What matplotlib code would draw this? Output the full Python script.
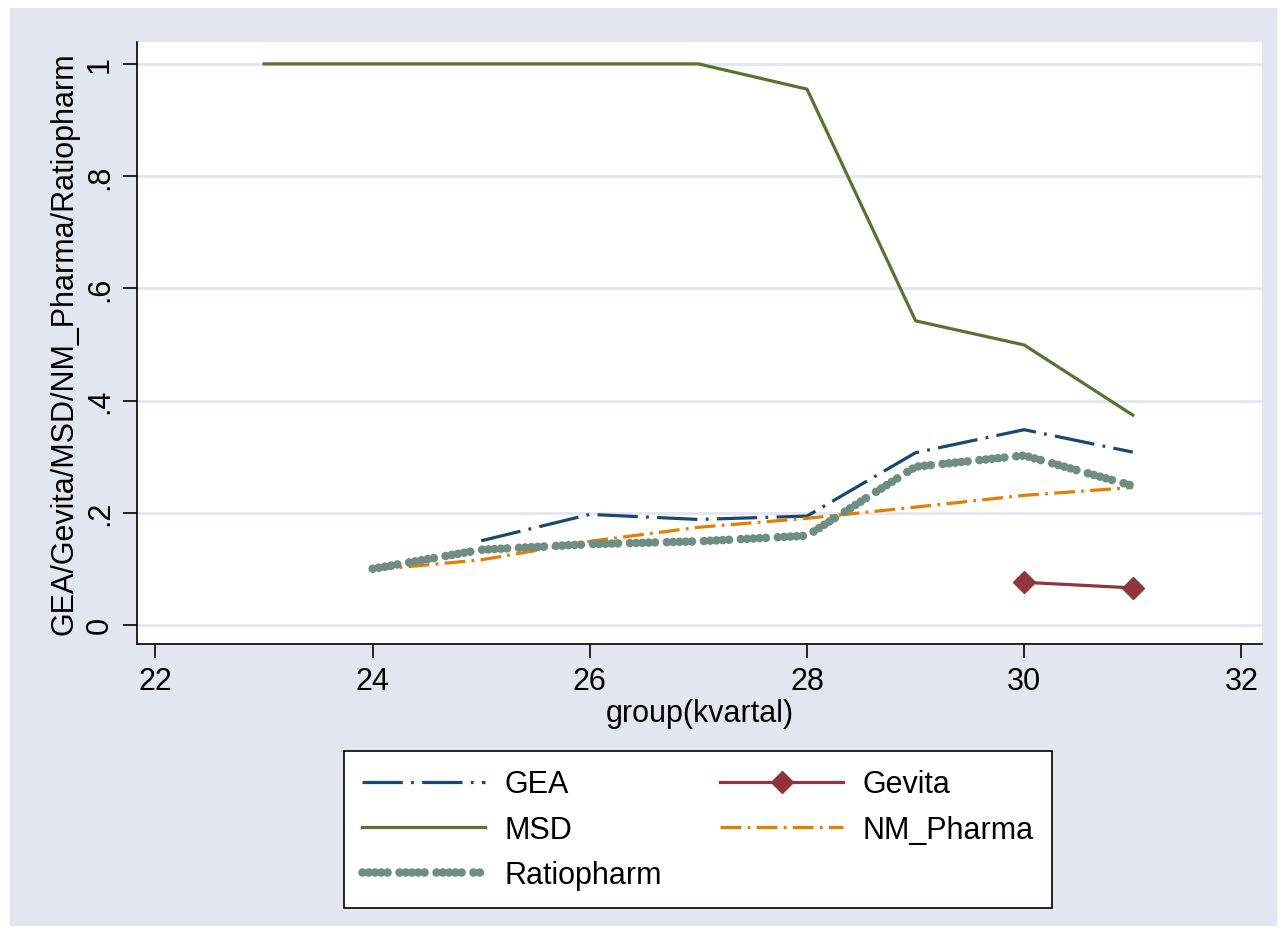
import matplotlib
matplotlib.use("Agg")
import matplotlib.pyplot as plt
from matplotlib.patches import Rectangle

plt.rcParams['font.family'] = ['Liberation Sans', 'DejaVu Sans']
plt.rcParams['lines.scale_dashes'] = False

# data
x_msd = [23, 24, 25, 26, 27, 28, 29, 30, 31]
msd = [1.0, 1.0, 1.0, 1.0, 1.0, 0.955, 0.542, 0.499, 0.374]

x_gea = [25, 26, 27, 28, 29, 30, 31]
gea = [0.150, 0.197, 0.188, 0.194, 0.307, 0.348, 0.308]

x_nm = [24, 25, 26, 27, 28, 29, 30, 31]
nm_pharma = [0.098, 0.116, 0.149, 0.174, 0.190, 0.210, 0.231, 0.245]

x_ratio = [24, 25, 26, 27, 28, 29, 30, 31]
ratiopharm = [0.100, 0.134, 0.144, 0.149, 0.159, 0.282, 0.302, 0.248]

x_gevita = [30, 31]
gevita = [0.076, 0.066]

xticks = [22, 24, 26, 28, 30, 32]
yticks = [0, 0.2, 0.4, 0.6, 0.8, 1.0]
ylabels = ['0', '.2', '.4', '.6', '.8', '1']

FS = 22
W, H = 1287, 937
fig = plt.figure(figsize=(W / 100, H / 100), dpi=100)
fig.patch.set_facecolor('white')
fig.patches.append(Rectangle((10 / W, 10 / H), 1267 / W, 918 / H,
                             transform=fig.transFigure, facecolor='#E2E6F0',
                             edgecolor='none', zorder=-10))

ax = fig.add_axes([137 / W, 1 - 645 / H, 1125 / W, 602 / H])
ax.set_facecolor('white')

l_gea, = ax.plot(x_gea, gea, color='#1A476F', lw=2.3,
                 dashes=(29, 6, 2, 6), label='GEA')
l_gev, = ax.plot(x_gevita, gevita, color='#90353B', lw=2.3, marker='D',
                 markersize=11, label='Gevita')
l_msd, = ax.plot(x_msd, msd, color='#55752F', lw=2.3, label='MSD')
l_nm, = ax.plot(x_nm, nm_pharma, color='#E37E00', lw=2.3,
                dashes=(15, 4.5, 2, 4.5), label='NM_Pharma')
l_rat, = ax.plot(x_ratio, ratiopharm, color='#6E8E84', lw=6.2,
                 dashes=(0.01, 4.5, 0.01, 4.5, 0.01, 4.5, 0.01, 4.5, 0.01, 8.6),
                 dash_capstyle='round', label='Ratiopharm')

ax.set_xlim(21.83, 32.19)
ax.set_ylim(-0.034, 1.039)
ax.set_xticks(xticks)
ax.set_yticks(yticks)
ax.set_yticklabels(ylabels, rotation=90, va='center')
ax.tick_params(axis='both', labelsize=FS, length=10, width=1.2,
               color='black', pad=6)
ax.grid(axis='y', color='#E2E6F0', lw=2)
ax.set_axisbelow(True)
for s in ['top', 'right']:
    ax.spines[s].set_visible(False)
for s in ['left', 'bottom']:
    ax.spines[s].set_linewidth(1.2)

ax.set_xlabel('group(kvartal)', fontsize=FS, labelpad=1)
ax.set_ylabel('GEA/Gevita/MSD/NM_Pharma/Ratiopharm', fontsize=FS, labelpad=4)

leg = fig.legend([l_gea, l_msd, l_rat, l_gev, l_nm],
                 ['GEA', 'MSD', 'Ratiopharm', 'Gevita', 'NM_Pharma'],
                 ncol=2, loc='upper left',
                 bbox_to_anchor=(344 / W, 1 - 904 / H, 708 / W, 152 / H),
                 mode='expand', fontsize=FS, handlelength=4.0,
                 handletextpad=0.65, labelspacing=0.5, borderpad=0.6,
                 columnspacing=0.5,
                 borderaxespad=0, fancybox=False, frameon=True, framealpha=1)
leg.get_frame().set_edgecolor('black')
leg.get_frame().set_linewidth(1.2)
leg.get_frame().set_facecolor('white')

fig.savefig('out.png', dpi=100)
